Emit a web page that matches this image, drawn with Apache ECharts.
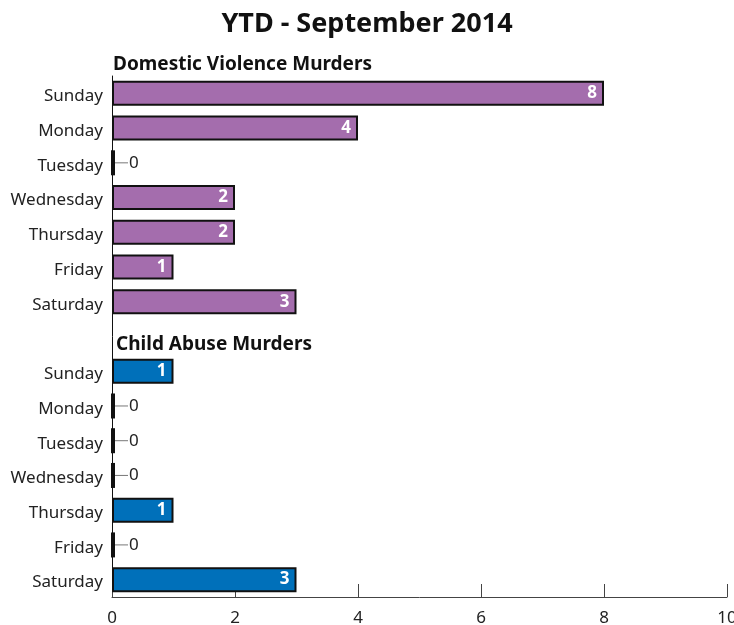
<!DOCTYPE html>
<html>
<head>
<meta charset="utf-8">
<script src="https://cdn.jsdelivr.net/npm/echarts@6/dist/echarts.min.js"></script>
<style>html,body{margin:0;padding:0;background:#fff}#c{width:734px;height:625px}</style>
</head>
<body>
<div id="c"></div>
<script>
const titleText = 'YTD - September 2014';
const dvHeader = 'Domestic Violence Murders';
const caHeader = 'Child Abuse Murders';
const days = ['Sunday','Monday','Tuesday','Wednesday','Thursday','Friday','Saturday'];
const dvValues = [8, 4, 0, 2, 2, 1, 3];
const caValues = [1, 0, 0, 0, 1, 0, 3];
const xTicks = [0, 2, 4, 6, 8, 10];

const FONT = 'Noto Sans';
const categories = days.concat(['']).concat(days);

function item(v) {
  if (v === 0) {
    return {
      value: 0,
      label: {
        show: true, position: 'right', distance: -1,
        formatter: '{s|}{l|}{v|0}',
        rich: {
          s: { width: 3, height: 25, backgroundColor: '#111', verticalAlign: 'middle' },
          l: { width: 13, height: 1, backgroundColor: '#777', verticalAlign: 'middle' },
          v: { fontSize: 17, color: '#222', fontWeight: 'normal', fontFamily: FONT, padding: [0, 0, 0, 1], verticalAlign: 'middle' }
        }
      }
    };
  }
  return { value: v };
}
const dvData = dvValues.map(item).concat(new Array(8).fill('-'));
const caData = new Array(8).fill('-').concat(caValues.map(item));

const barLabel = { show: true, position: 'insideRight', distance: 7, color: '#fff', fontFamily: FONT, fontWeight: 'bold', fontSize: 17 };

const chart = echarts.init(document.getElementById('c'), null, { renderer: 'canvas' });
chart.setOption({
  animation: false,
  title: [
    { text: titleText, left: 'center', top: 6, textStyle: { fontFamily: FONT, fontWeight: 'bold', fontSize: 27, color: '#111' } },
    { text: dvHeader, left: 108, top: 50, textStyle: { fontFamily: FONT, fontWeight: 'bold', fontSize: 19, color: '#111' } },
    { text: caHeader, left: 111, top: 330, textStyle: { fontFamily: FONT, fontWeight: 'bold', fontSize: 19, color: '#111' } }
  ],
  grid: { left: 112, right: 7, top: 76, bottom: 28, containLabel: false, outerBoundsMode: 'none' },
  xAxis: {
    type: 'value', min: xTicks[0], max: xTicks[xTicks.length - 1], interval: 2,
    axisLine: { show: true, lineStyle: { color: '#444', width: 1 } },
    axisTick: { show: true, inside: true, length: 13, lineStyle: { color: '#444' } },
    splitLine: { show: false },
    axisLabel: { fontFamily: FONT, fontSize: 17, color: '#222', margin: 13 }
  },
  yAxis: {
    type: 'category', data: categories, inverse: true,
    axisLine: { show: true, lineStyle: { color: '#111', width: 1 } },
    axisTick: { show: false },
    axisLabel: {
      margin: 9,
      formatter: function (v) { return v ? '{a|' + v + '}' : ''; },
      rich: { a: { fontFamily: FONT, fontSize: 17, color: '#222', padding: [6, 0, 0, 0] } }
    }
  },
  series: [
    {
      type: 'bar', data: dvData, barWidth: 25, barGap: '-100%',
      itemStyle: { color: '#A46DAD', borderColor: '#111', borderWidth: 2 },
      label: barLabel
    },
    {
      type: 'bar', data: caData, barWidth: 25, barGap: '-100%',
      itemStyle: { color: '#0070BA', borderColor: '#111', borderWidth: 2 },
      label: barLabel
    }
  ]
});
</script>
</body>
</html>
